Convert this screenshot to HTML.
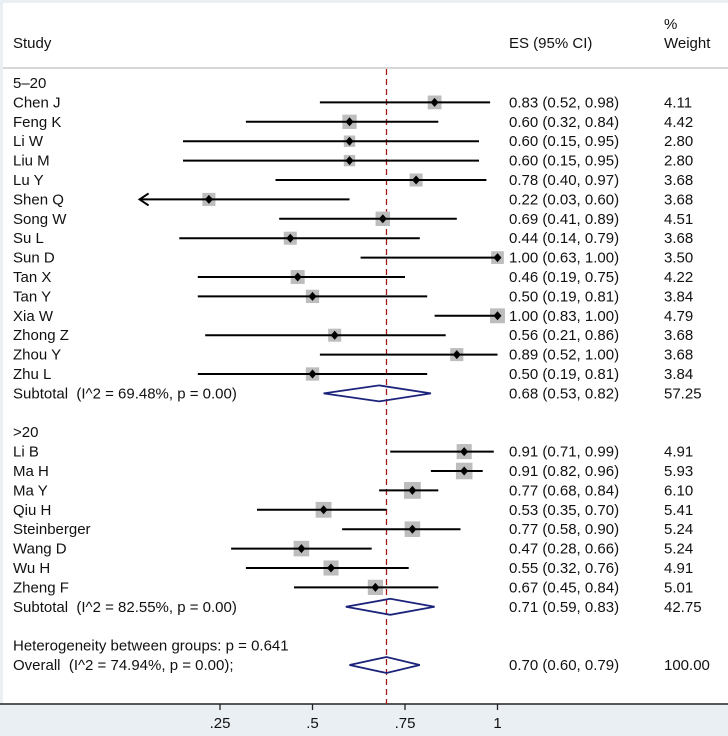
<!DOCTYPE html>
<html><head><meta charset="utf-8">
<style>
html,body{margin:0;padding:0;background:#eaeff4;}
svg{display:block;font-family:"Liberation Sans",Arial,sans-serif;}
text{white-space:pre;}
</style></head>
<body>
<svg id="chart" width="728" height="736" viewBox="0 0 728 736">
<rect x="3" y="3" width="725" height="701" fill="#ffffff"/>
</svg>
<script>
const studies = ["Chen J","Feng K","Li W","Liu M","Lu Y","Shen Q","Song W","Su L","Sun D","Tan X","Tan Y","Xia W","Zhong Z","Zhou Y","Zhu L",
 "Li B","Ma H","Ma Y","Qiu H","Steinberger","Wang D","Wu H","Zheng F"];
const groups = [0,0,0,0,0,0,0,0,0,0,0,0,0,0,0,1,1,1,1,1,1,1,1];
const es = [0.83,0.60,0.60,0.60,0.78,0.22,0.69,0.44,1.00,0.46,0.50,1.00,0.56,0.89,0.50, 0.91,0.91,0.77,0.53,0.77,0.47,0.55,0.67];
const lo = [0.52,0.32,0.15,0.15,0.40,0.03,0.41,0.14,0.63,0.19,0.19,0.83,0.21,0.52,0.19, 0.71,0.82,0.68,0.35,0.58,0.28,0.32,0.45];
const hi = [0.98,0.84,0.95,0.95,0.97,0.60,0.89,0.79,1.00,0.75,0.81,1.00,0.86,1.00,0.81, 0.99,0.96,0.84,0.70,0.90,0.66,0.76,0.84];
const weights = ["4.11","4.42","2.80","2.80","3.68","3.68","4.51","3.68","3.50","4.22","3.84","4.79","3.68","3.68","3.84","4.91","5.93","6.10","5.41","5.24","5.24","4.91","5.01"];
const groupNames = ["5\u201320",">20"];
const subES = [0.68,0.71], subLo=[0.53,0.59], subHi=[0.82,0.83];
const subText = ["Subtotal  (I^2 = 69.48%, p = 0.00)","Subtotal  (I^2 = 82.55%, p = 0.00)"];
const subWeight = ["57.25","42.75"];
const overall = [0.70,0.60,0.79];
const ticks = [0.25,0.5,0.75,1];
const tickLabels = [".25",".5",".75","1"];

const svg = document.getElementById('chart');
const NS = "http://www.w3.org/2000/svg";
function xs(v){ return 127.5 + 370*v; }
function ys(i){ return 83 + 19.4*i; }
function mk(tag, attrs){ const e=document.createElementNS(NS,tag); for(const k in attrs) e.setAttribute(k,attrs[k]); svg.appendChild(e); return e; }
function txt(x,y,s,name,anchor){ const t=mk('text',{x:x,y:y+5,'font-size':'15',fill:'#111','text-anchor':anchor||'start'}); t.textContent=s;
 
 
 return t; }
const fmt = v=>v.toFixed(2);

txt(13,43,"Study","header-study");
txt(509,43,"ES (95% CI)","header-es");
txt(664,24,"%","header-percent");
txt(664,43,"Weight","header-weight");
const hl = mk('line',{x1:3,x2:728,y1:68,y2:68,stroke:'#c8c8c8','stroke-width':1.5});



const ax = mk('line',{x1:0,x2:728,y1:704,y2:704,stroke:'#222','stroke-width':1.5});


ticks.forEach((t,i)=>{
 const l=mk('line',{x1:xs(t),x2:xs(t),y1:704,y2:710,stroke:'#222','stroke-width':1.3});
 
 
 txt(xs(t),723,tickLabels[i],'x-tick-label','middle');
});

const ref = mk('line',{x1:xs(overall[0]),x2:xs(overall[0]),y1:69,y2:704,stroke:'#a31a1a','stroke-width':1.3,'stroke-dasharray':'6,4'});



function diamond(e,l,h,y,name){
 const p=mk('polygon',{points:`${xs(l)},${y} ${xs(e)},${y-8} ${xs(h)},${y} ${xs(e)},${y+8}`,fill:'none',stroke:'#1b237a','stroke-width':1.8});
 
 
}

let row=0;
for(let g=0; g<2; g++){
 txt(13,ys(row),groupNames[g],'group-label');
 row++;
 studies.forEach((s,i)=>{
  if(groups[i]!==g) return;
  const y=ys(row);
  txt(13,y,s,'study-label');
  const side = 6.8*Math.sqrt(parseFloat(weights[i]));
  const sq=mk('rect',{x:xs(es[i])-side/2,y:y-side/2,width:side,height:side,fill:'#bdbdbd'});
  
  
  const arrow = lo[i] < 0.1;
  const x1 = arrow ? xs(lo[i])+1 : xs(lo[i]);
  const ln=mk('line',{x1:x1,x2:xs(hi[i]),y1:y,y2:y,stroke:'#000','stroke-width':2});
  
  
  if(arrow){
   const a=mk('polyline',{points:`${x1+9},${y-6} ${x1},${y} ${x1+9},${y+6}`,fill:'none',stroke:'#000','stroke-width':2});
   
   
  }
  const d=mk('polygon',{points:`${xs(es[i])-4},${y} ${xs(es[i])},${y-4.5} ${xs(es[i])+4},${y} ${xs(es[i])},${y+4.5}`,fill:'#000'});
  
  
  txt(509,y,`${fmt(es[i])} (${fmt(lo[i])}, ${fmt(hi[i])})`,'es-ci-value');
  txt(664,y,weights[i],'weight-value');
  row++;
 });
 const y=ys(row);
 txt(13,y,subText[g],'subtotal-label');
 diamond(subES[g],subLo[g],subHi[g],y,'subtotal-diamond');
 txt(509,y,`${fmt(subES[g])} (${fmt(subLo[g])}, ${fmt(subHi[g])})`,'subtotal-es');
 txt(664,y,subWeight[g],'subtotal-weight');
 row+=2;
}
txt(13,ys(29),"Heterogeneity between groups: p = 0.641",'heterogeneity-label');
txt(13,ys(30),"Overall  (I^2 = 74.94%, p = 0.00);",'overall-label');
diamond(overall[0],overall[1],overall[2],ys(30),'overall-diamond');
txt(509,ys(30),`${fmt(overall[0])} (${fmt(overall[1])}, ${fmt(overall[2])})`,'overall-es');
txt(664,ys(30),"100.00",'overall-weight');
</script>
</body></html>
